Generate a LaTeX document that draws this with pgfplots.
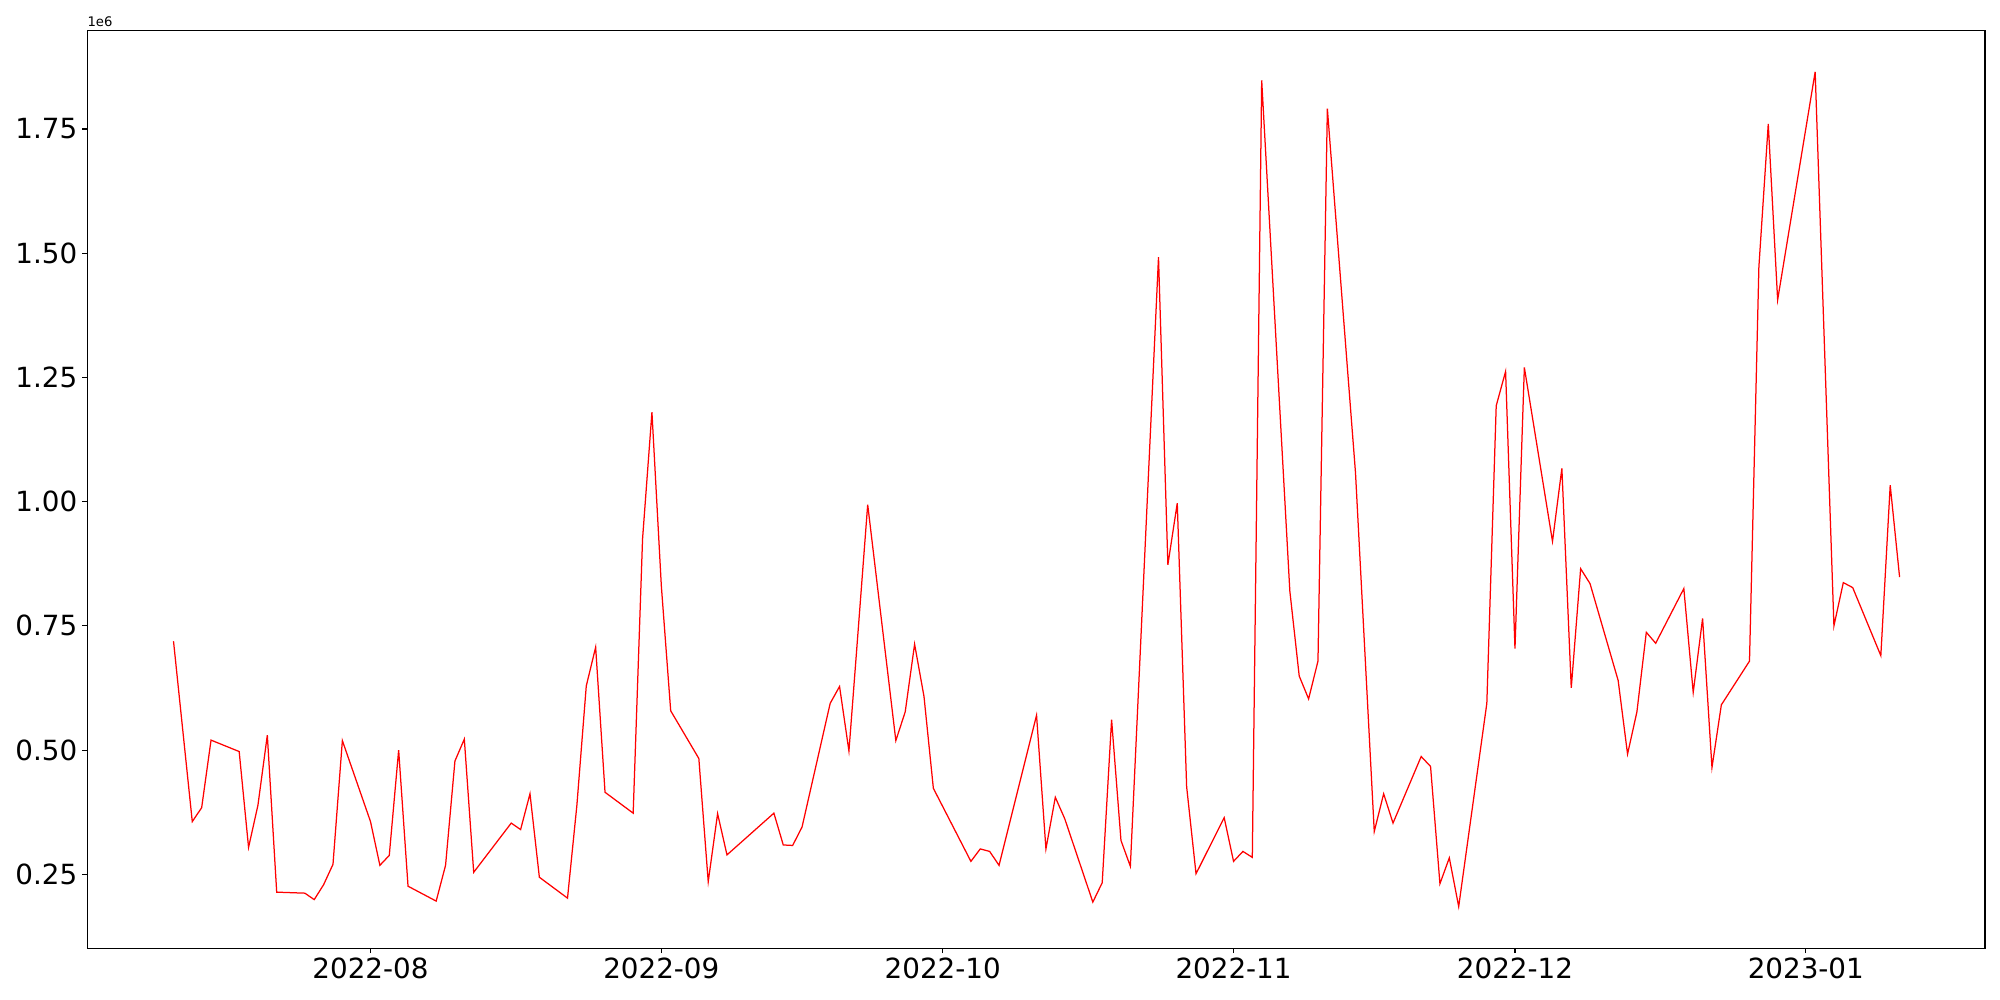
\documentclass[border=0pt]{standalone}
\usepackage{fontspec}
\setmainfont{DejaVu Sans}
\usepackage{pgfplots}
\pgfplotsset{compat=1.18}
\begin{document}
\begin{tikzpicture}
\useasboundingbox (0,0) rectangle (1440pt,720pt);
\begin{axis}[
  at={(62.86pt,37.22pt)}, anchor=south west,
  scale only axis, width=1366.3pt, height=660.96pt,
  xmin=-30.19, xmax=172.1, ymin=0.101, ymax=1.9486,
  axis line style={line width=0.8pt, black},
  tick align=outside, xtick pos=bottom, ytick pos=left,
  major tick length=3.5pt,
  tick style={line width=0.8pt, black},
  xtick={0,31,61,92,122,153},
  xticklabels={2022-08,2022-09,2022-10,2022-11,2022-12,2023-01},
  ytick={0.25,0.5,0.75,1.0,1.25,1.5,1.75},
  yticklabels={0.25,0.50,0.75,1.00,1.25,1.50,1.75},
  scaled y ticks=false,
  xticklabel style={font=\fontsize{20}{24}\selectfont, inner sep=0pt, yshift=-3.5pt},
  yticklabel style={font=\fontsize{20}{24}\selectfont, inner sep=0pt, xshift=-3.5pt},
  clip=true,
]
\addplot[red, line width=0.9pt, mark=none] coordinates {
(-21,0.719) (-19,0.356) (-18,0.384) (-17,0.520) (-14,0.497) (-13,0.304) (-12,0.389) (-11,0.530) (-10,0.214)
(-7,0.212) (-6,0.199) (-5,0.229) (-4,0.270) (-3,0.519)
(0,0.356) (1,0.268) (2,0.288) (3,0.500) (4,0.226)
(7,0.196) (8,0.268) (9,0.478) (10,0.522) (11,0.254)
(15,0.353) (16,0.340) (17,0.412) (18,0.244)
(21,0.202) (22,0.389) (23,0.629) (24,0.707) (25,0.415)
(28,0.373) (29,0.925) (30,1.180) (31,0.831) (32,0.579)
(35,0.483) (36,0.235) (37,0.372) (38,0.289)
(43,0.373) (44,0.309) (45,0.308) (46,0.345)
(49,0.594) (50,0.628) (51,0.498) (52,0.745) (53,0.994)
(56,0.519) (57,0.577) (58,0.713) (59,0.608) (60,0.423)
(64,0.276) (65,0.301) (66,0.296) (67,0.268)
(71,0.570) (72,0.301) (73,0.405) (74,0.362)
(77,0.194) (78,0.233) (79,0.561) (80,0.318) (81,0.266)
(84,1.492) (85,0.873) (86,0.997) (87,0.426) (88,0.251)
(91,0.364) (92,0.276) (93,0.296) (94,0.284) (95,1.848)
(98,0.820) (99,0.649) (100,0.603) (101,0.679) (102,1.791)
(105,1.058) (107,0.336) (108,0.412) (109,0.353)
(112,0.487) (113,0.467) (114,0.231) (115,0.283) (116,0.185)
(119,0.594) (120,1.193) (121,1.262) (122,0.704) (123,1.270)
(126,0.920) (127,1.067) (128,0.625) (129,0.865) (130,0.835)
(133,0.640) (134,0.492) (135,0.577) (136,0.737) (137,0.715)
(140,0.825) (141,0.616) (142,0.765) (143,0.465) (144,0.591)
(147,0.679) (148,1.472) (149,1.760) (150,1.406)
(154,1.865) (156,0.750) (157,0.837) (158,0.827)
(161,0.690) (162,1.033) (163,0.848)
};
\end{axis}
\node[anchor=south west, inner sep=0pt, font=\fontsize{9.5}{11}\selectfont] at (62.86pt,700.5pt) {1e6};
\end{tikzpicture}
\end{document}
